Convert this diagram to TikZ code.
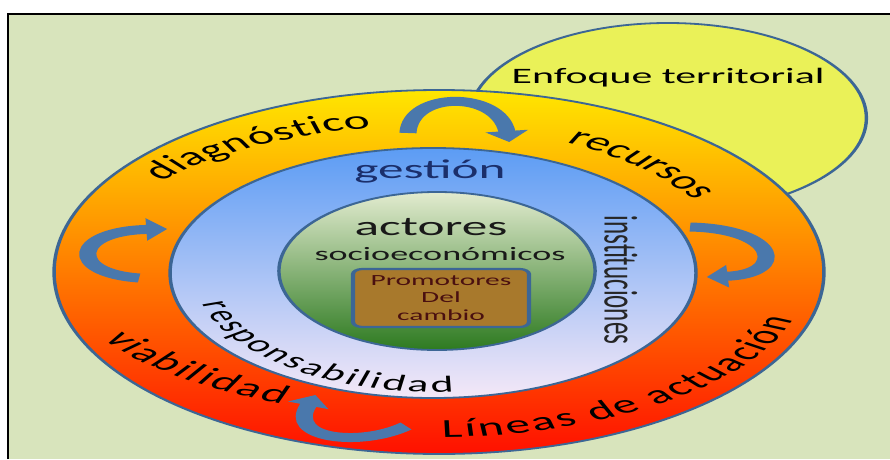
\documentclass[tikz,border=0pt]{standalone}
\usepackage{fontspec}
\setmainfont{Carlito}
\usetikzlibrary{decorations.text,arrows.meta}
\definecolor{bgc}{HTML}{D8E4BC}
\definecolor{edgec}{HTML}{3C6695}
\definecolor{ylw}{HTML}{EAF158}
\definecolor{arrc}{HTML}{4A78AC}
\definecolor{ringtop}{HTML}{FFE600}
\definecolor{ringmid}{HTML}{FF8400}
\definecolor{ringbot}{HTML}{FF1000}
\definecolor{bluetop}{HTML}{5C9CF4}
\definecolor{bluemid}{HTML}{8EC2F5}
\definecolor{bluebot}{HTML}{F4E8F7}
\definecolor{grtop}{HTML}{E2EBCF}
\definecolor{grmid}{HTML}{9DBB70}
\definecolor{grbot}{HTML}{2D7A20}
\definecolor{boxc}{HTML}{A8792C}
\definecolor{navyc}{HTML}{1B2F6B}
\definecolor{boxtxt}{HTML}{4A1010}
\newcommand\rgf{\fontsize{26}{30}\selectfont}
\newcommand\rsf{\fontsize{23}{26}\selectfont}
\tikzset{
  ringline/.style={draw=edgec, line width=1.8pt},
  cyc/.style={draw=arrc, line width=9pt, -{Triangle[width=22pt,length=11pt]}},
  ringtext/.style={decorate, decoration={text along path, text align={fit to path}, text={#1}}}
}
\begin{document}
\begin{tikzpicture}[x=1pt,y=1pt]
\useasboundingbox (0,0) rectangle (890,459);
\fill[white] (0,0) rectangle (890,459);
\fill[bgc] (7.5,0) rectangle (890,445);
\draw[line width=2pt, black] (7.5,0) -- (7.5,445) -- (890,445);
\begin{scope}[transform canvas={xscale=1.9}]
  \coordinate (O) at (231.05,187);
  \coordinate (B) at (227.9,186);
  \coordinate (G) at (230,188);
  \coordinate (Y) at (351.5,341);
  % yellow circle
  \draw[ringline, fill=ylw] (Y) ellipse [x radius=104.5, y radius=95];
  % outer ring
  \shadedraw[ringline, top color=ringtop, middle color=ringmid, bottom color=ringbot] (O) ellipse [x radius=202.6, y radius=182];
  % blue ring
  \shadedraw[ringline, top color=bluetop, middle color=bluemid, bottom color=bluebot] (B) ellipse [x radius=138.4, y radius=125];
  % green circle
  \shadedraw[ringline, top color=grtop, middle color=grmid, bottom color=grbot] (G) ellipse [x radius=83.2, y radius=79];
  % box
  \node[draw=edgec, line width=2.2pt, fill=boxc, rounded corners=5pt, minimum width=92.6pt, minimum height=58pt, inner sep=0pt, align=center, text=boxtxt, font=\fontsize{15.5}{17.5}\selectfont] (box) at (232.1,161) {Promotores\\Del\\cambio};
  % straight texts
  \node[font=\fontsize{22}{26}\selectfont, text=black] (enf) at (351.6,381) {Enfoque territorial};
  \node[font=\fontsize{27}{30}\selectfont, text=navyc, anchor=base] (ges) at (226.3,281) {gestión};
  \node[font=\fontsize{27}{30}\selectfont, text=black!90, anchor=base] (act) at (226.8,224) {actores};
  \node[font=\fontsize{19}{22}\selectfont, text=black!90, anchor=base] (soc) at (231.6,199) {socioeconómicos};
  \node[font=\fontsize{25}{30}\selectfont, text=black!85, rotate=-90] (ins) at (326.8,179) {instituciones};
  % curved texts
  \path[ringtext={|\rgf|diagnóstico}, shift={(O)}] (142:185 and 147) arc[start angle=142, end angle=101, x radius=185, y radius=147];
  \path[ringtext={|\rgf|recursos}, shift={(O)}] (64.5:155 and 143) arc[start angle=64.5, end angle=32, x radius=155, y radius=143];
  \path[ringtext={|\rgf|viabilidad}, shift={(O)}] (207.5:199 and 145) arc[start angle=207.5, end angle=245.5, x radius=199, y radius=145];
  \path[ringtext={|\rgf|Líneas de actuación}, shift={(O)}] (270.5:195 and 165) arc[start angle=270.5, end angle=343, x radius=195, y radius=165];
  \path[ringtext={|\rsf|responsabilidad}, shift={(B)}] (195:126 and 119) arc[start angle=195, end angle=275, x radius=126, y radius=119];
  % cycle arrows
  \coordinate (ta) at (214.7,326);
  \coordinate (tb) at (268,317);
  \draw[cyc] (ta) .. controls (216,368) and (262,368) .. (tb);
  \coordinate (ra) at (363.2,232);
  \coordinate (rb) at (372,182);
  \draw[cyc] (ra) .. controls (410,230) and (415,185) .. (rb);
  \coordinate (ba) at (213.7,33);
  \coordinate (bb) at (166,64);
  \draw[cyc] (ba) .. controls (190,12) and (150,20) .. (bb);
  \coordinate (la) at (73.2,181);
  \coordinate (lb) at (88,230);
  \draw[cyc] (la) .. controls (35,186) and (38,228) .. (lb);
\end{scope}
\end{tikzpicture}
\end{document}
